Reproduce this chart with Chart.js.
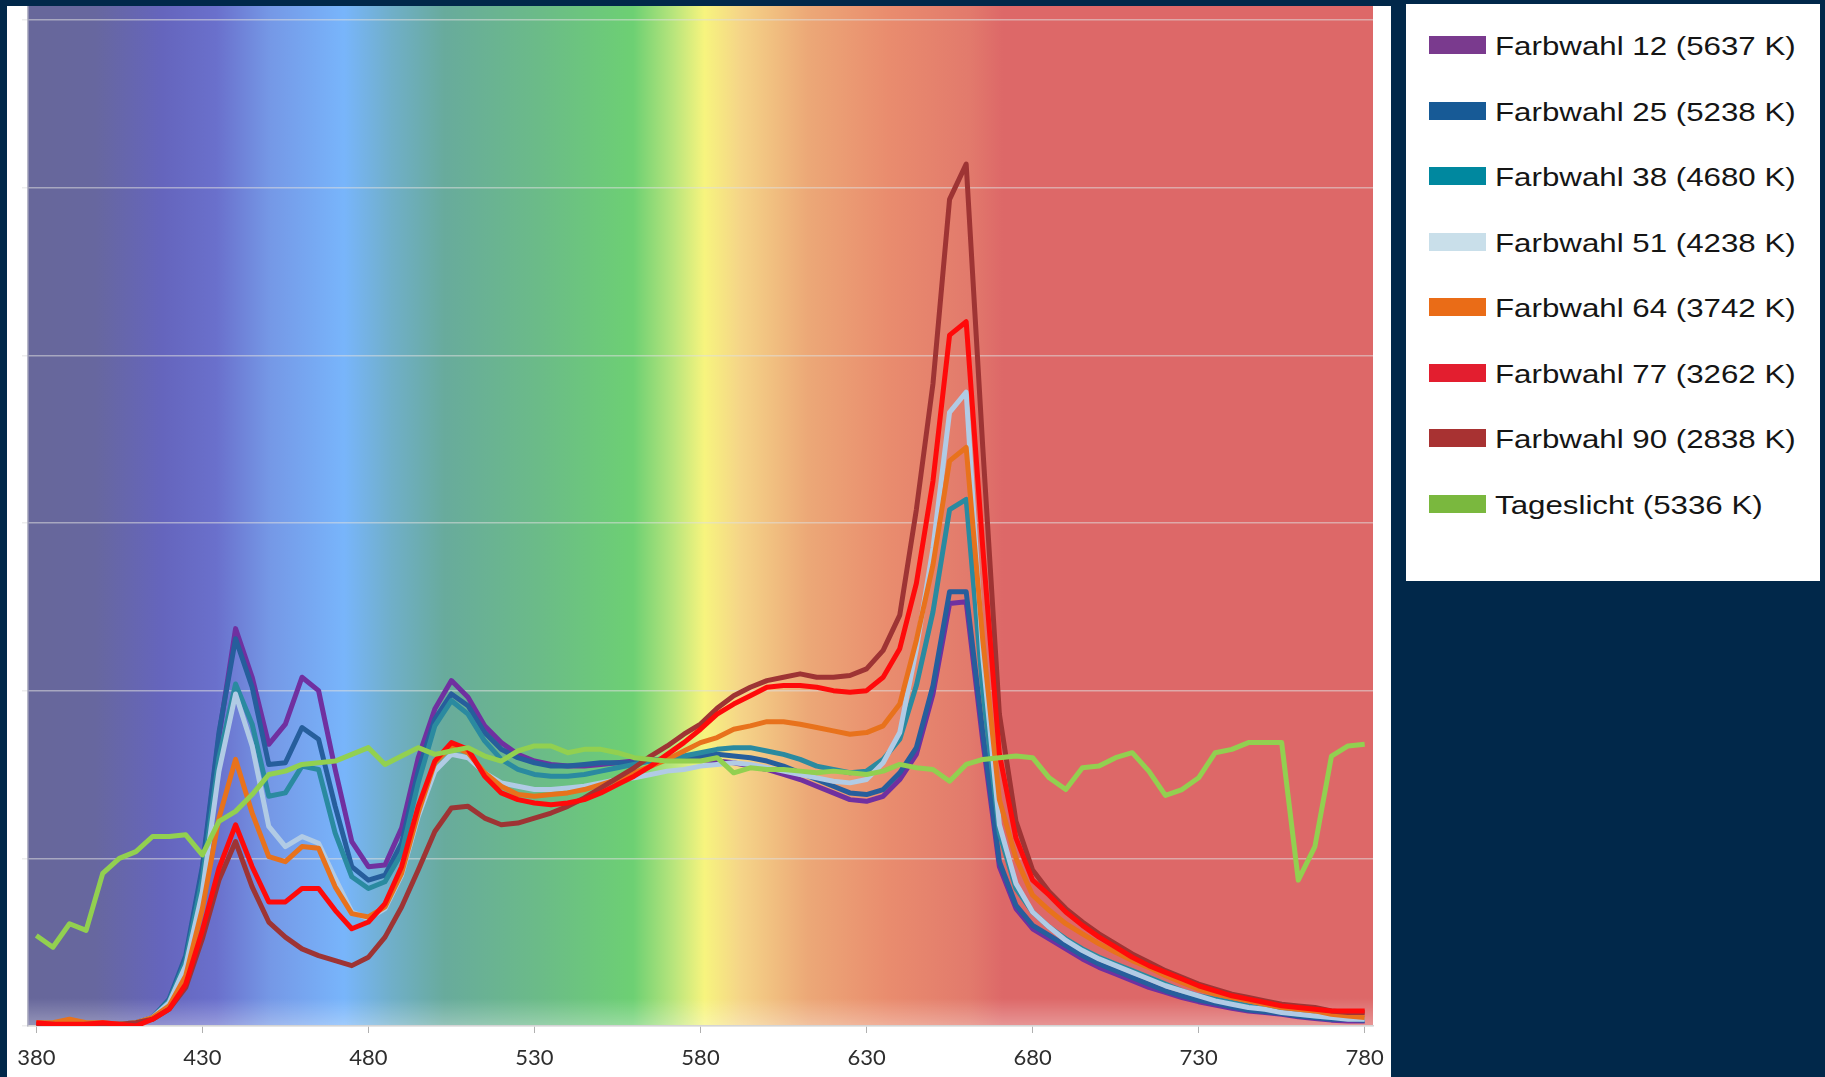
<!DOCTYPE html>
<html>
<head>
<meta charset="utf-8">
<script src="https://cdn.jsdelivr.net/npm/chart.js@4.4.1/dist/chart.umd.min.js"></script>
<style>
  html, body { margin: 0; padding: 0; width: 1825px; height: 1077px; overflow: hidden; background: #01284a; }
  #panel { position: absolute; left: 7px; top: 6px; width: 1384px; height: 1071px; background: #fff; }
  #legend { position: absolute; left: 1406px; top: 4px; width: 414px; height: 577px; background: #fff; }
  .item { position: absolute; left: 23px; height: 30px; display: flex; align-items: center; }
  .swatch { width: 57px; height: 18px; }
  .label { position: absolute; left: 66px; top: 1px; line-height: 30px; white-space: nowrap;
           font-family: "Liberation Sans", Arial, sans-serif; font-size: 26.5px; color: #151515;
           transform: scaleX(1.18); transform-origin: left center; }
</style>
</head>
<body>
<div id="panel"><canvas id="spectrum" width="1384" height="1071"></canvas></div>
<div id="legend"></div>
<script>
const WAVELENGTHS = [380, 385, 390, 395, 400, 405, 410, 415, 420, 425, 430, 435, 440, 445, 450, 455,
  460, 465, 470, 475, 480, 485, 490, 495, 500, 505, 510, 515, 520, 525, 530, 535, 540, 545, 550, 555,
  560, 565, 570, 575, 580, 585, 590, 595, 600, 605, 610, 615, 620, 625, 630, 635, 640, 645, 650, 655,
  660, 665, 670, 675, 680, 685, 690, 695, 700, 705, 710, 715, 720, 725, 730, 735, 740, 745, 750, 755,
  760, 765, 770, 775, 780];

const GRID_VALUES = [0, 1, 2, 3, 4, 5, 6];

const SERIES_NAMES = ['Farbwahl 12 (5637 K)', 'Farbwahl 25 (5238 K)', 'Farbwahl 38 (4680 K)',
  'Farbwahl 51 (4238 K)', 'Farbwahl 64 (3742 K)', 'Farbwahl 77 (3262 K)', 'Farbwahl 90 (2838 K)',
  'Tageslicht (5336 K)'];

const farbwahl12 = [0.01, 0.00, 0.01, 0.01, 0.01, 0.01, 0.02, 0.05,
  0.15, 0.40, 0.93, 1.73, 2.37, 2.08, 1.68, 1.80, 2.08, 2.00, 1.53, 1.10,
  0.95, 0.96, 1.18, 1.60, 1.89, 2.06, 1.96, 1.79, 1.69, 1.62, 1.58, 1.56, 1.55, 1.55, 1.56, 1.57,
  1.58, 1.59, 1.59, 1.60, 1.59, 1.58, 1.57, 1.55, 1.53, 1.50, 1.47, 1.43, 1.39, 1.35, 1.34, 1.37,
  1.47, 1.62, 1.98, 2.52, 2.53, 1.70, 0.95, 0.70, 0.58, 0.52, 0.46, 0.40, 0.35, 0.31, 0.27, 0.23,
  0.20, 0.17, 0.145, 0.125, 0.105, 0.09, 0.08, 0.07, 0.055, 0.045, 0.035, 0.03, 0.03];

const farbwahl25 = [-0.02, 0.00, 0.00, 0.01, 0.01, 0.01, 0.02, 0.05,
  0.16, 0.42, 0.95, 1.75, 2.31, 2.02, 1.56, 1.57, 1.78, 1.71, 1.31, 0.95,
  0.87, 0.90, 1.09, 1.52, 1.83, 1.98, 1.91, 1.75, 1.65, 1.60, 1.57, 1.55, 1.55, 1.56, 1.57, 1.57,
  1.57, 1.58, 1.59, 1.60, 1.61, 1.62, 1.61, 1.60, 1.58, 1.55, 1.51, 1.47, 1.43, 1.39, 1.38, 1.41,
  1.51, 1.66, 2.03, 2.59, 2.59, 1.75, 0.98, 0.72, 0.60, 0.54, 0.48, 0.42, 0.37, 0.33, 0.29, 0.25,
  0.21, 0.18, 0.155, 0.135, 0.115, 0.095, 0.085, 0.075, 0.06, 0.05, 0.04, 0.04, 0.035];

const farbwahl38 = [0.00, 0.01, 0.01, 0.01, 0.01, 0.01, 0.02, 0.05,
  0.15, 0.39, 0.88, 1.60, 2.04, 1.80, 1.37, 1.39, 1.55, 1.53, 1.15, 0.89,
  0.82, 0.86, 1.03, 1.45, 1.79, 1.94, 1.86, 1.70, 1.59, 1.53, 1.50, 1.49, 1.49, 1.50, 1.52, 1.54,
  1.56, 1.58, 1.60, 1.61, 1.63, 1.65, 1.66, 1.66, 1.64, 1.62, 1.59, 1.55, 1.53, 1.51, 1.52, 1.59,
  1.71, 2.03, 2.47, 3.08, 3.14, 2.00, 1.15, 0.82, 0.68, 0.59, 0.52, 0.46, 0.41, 0.37, 0.33, 0.29,
  0.25, 0.21, 0.18, 0.16, 0.14, 0.12, 0.10, 0.09, 0.07, 0.06, 0.05, 0.05, 0.04];

const farbwahl51 = [0.00, 0.00, 0.01, 0.01, 0.01, 0.01, 0.02, 0.05,
  0.14, 0.36, 0.80, 1.52, 1.98, 1.67, 1.19, 1.07, 1.13, 1.09, 0.88, 0.68,
  0.64, 0.70, 0.90, 1.25, 1.52, 1.62, 1.60, 1.51, 1.45, 1.43, 1.41, 1.41, 1.42, 1.43, 1.45, 1.47,
  1.48, 1.50, 1.52, 1.53, 1.55, 1.56, 1.57, 1.56, 1.54, 1.52, 1.50, 1.48, 1.46, 1.45, 1.47, 1.57,
  1.75, 2.25, 2.85, 3.66, 3.78, 2.20, 1.20, 0.85, 0.68, 0.59, 0.51, 0.45, 0.40, 0.36, 0.32, 0.28,
  0.24, 0.21, 0.18, 0.15, 0.13, 0.11, 0.10, 0.08, 0.07, 0.06, 0.05, 0.04, 0.04];

const farbwahl64 = [0.02, 0.02, 0.04, 0.02, 0.02, 0.01, 0.02, 0.05,
  0.12, 0.30, 0.70, 1.24, 1.59, 1.27, 1.01, 0.98, 1.07, 1.06, 0.83, 0.67,
  0.65, 0.71, 0.91, 1.27, 1.57, 1.67, 1.63, 1.51, 1.43, 1.38, 1.37, 1.38, 1.39, 1.41, 1.44, 1.47,
  1.51, 1.55, 1.59, 1.64, 1.69, 1.72, 1.77, 1.79, 1.815, 1.815, 1.80, 1.78, 1.76, 1.74, 1.75, 1.79,
  1.92, 2.30, 2.75, 3.37, 3.45, 2.30, 1.35, 1.00, 0.78, 0.69, 0.61, 0.55, 0.49, 0.44, 0.39, 0.35,
  0.30, 0.26, 0.22, 0.19, 0.17, 0.15, 0.13, 0.11, 0.10, 0.09, 0.07, 0.06, 0.05];

const farbwahl77 = [0.02, 0.01, 0.01, 0.01, 0.02, 0.01, 0.00, 0.04,
  0.10, 0.25, 0.57, 0.94, 1.20, 0.95, 0.74, 0.74, 0.82, 0.82, 0.69, 0.58,
  0.62, 0.73, 0.95, 1.31, 1.58, 1.69, 1.65, 1.49, 1.39, 1.35, 1.33, 1.32, 1.33, 1.35, 1.39, 1.44,
  1.49, 1.55, 1.62, 1.69, 1.77, 1.86, 1.92, 1.97, 2.02, 2.03, 2.03, 2.02, 2.00, 1.99, 2.00, 2.08,
  2.25, 2.64, 3.25, 4.12, 4.20, 2.85, 1.62, 1.12, 0.87, 0.78, 0.68, 0.60, 0.53, 0.47, 0.41, 0.36,
  0.32, 0.28, 0.24, 0.21, 0.18, 0.16, 0.14, 0.12, 0.11, 0.10, 0.09, 0.09, 0.09];

const farbwahl90 = [0.01, 0.01, 0.00, 0.01, 0.01, 0.01, 0.02, 0.04,
  0.10, 0.23, 0.52, 0.87, 1.10, 0.83, 0.62, 0.53, 0.46, 0.42, 0.39, 0.36,
  0.41, 0.53, 0.71, 0.93, 1.16, 1.30, 1.31, 1.24, 1.20, 1.21, 1.24, 1.27, 1.31, 1.36, 1.42, 1.48,
  1.54, 1.61, 1.67, 1.74, 1.80, 1.895, 1.97, 2.02, 2.06, 2.08, 2.10, 2.08, 2.08, 2.09, 2.13, 2.24,
  2.45, 3.08, 3.83, 4.93, 5.14, 3.45, 1.86, 1.22, 0.93, 0.80, 0.70, 0.62, 0.55, 0.49, 0.43, 0.38,
  0.33, 0.29, 0.25, 0.22, 0.19, 0.17, 0.15, 0.13, 0.12, 0.11, 0.09, 0.08, 0.08];

const tageslicht = [0.54, 0.47, 0.61, 0.57, 0.91, 1.00, 1.04, 1.13,
  1.13, 1.14, 1.02, 1.22, 1.28, 1.38, 1.50, 1.52, 1.56, 1.57, 1.58, 1.62,
  1.66, 1.56, 1.61, 1.66, 1.62, 1.64, 1.66, 1.61, 1.58, 1.64, 1.67, 1.67, 1.63, 1.65, 1.65, 1.63,
  1.60, 1.59, 1.58, 1.58, 1.58, 1.60, 1.51, 1.54, 1.53, 1.53, 1.52, 1.51, 1.52, 1.51, 1.50, 1.52,
  1.56, 1.54, 1.53, 1.46, 1.56, 1.59, 1.60, 1.61, 1.60, 1.48, 1.41, 1.54, 1.55, 1.60, 1.63, 1.52,
  1.375, 1.41, 1.48, 1.63, 1.65, 1.69, 1.69, 1.69, 0.87, 1.07, 1.61, 1.67, 1.68];

const SERIES_VALUES = [farbwahl12, farbwahl25, farbwahl38, farbwahl51, farbwahl64, farbwahl77, farbwahl90, tageslicht];

const LINE_COLORS = ['#7030a0', '#265e9c', '#2a8aa0', '#b1cbe5', '#e8721c', '#ff0a0a', '#9e3434', '#92d050'];
const SWATCH_COLORS = ['#7a3a8e', '#175a96', '#00889f', '#c9dfea', '#ea6c17', '#e31e2f', '#a83232', '#7ab83e'];
// drawing order: lower = on top
const DRAW_ORDER = [7, 6, 5, 4, 3, 1, 2, 0];

const SPECTRUM_STOPS = [
  [0.00, '#67679a'], [0.05, '#67679f'], [0.10, '#6565bd'], [0.14, '#6a70cc'],
  [0.18, '#7598e6'], [0.235, '#78b5fb'], [0.27, '#70afc9'], [0.31, '#68ab9c'],
  [0.38, '#6bbb88'], [0.45, '#6dd073'], [0.48, '#b8e57c'], [0.503, '#f7f47e'],
  [0.53, '#f5d488'], [0.58, '#eca877'], [0.64, '#e98c6e'], [0.70, '#e27a6c'],
  [0.725, '#dd6868'], [1.00, '#dd6868'],
];

const spectrumBg = {
  id: 'spectrumBg',
  beforeDraw(chart) {
    const { ctx, chartArea: a } = chart;
    const g = ctx.createLinearGradient(a.left, 0, a.right, 0);
    SPECTRUM_STOPS.forEach(([p, c]) => g.addColorStop(p, c));
    ctx.save();
    ctx.fillStyle = g;
    ctx.fillRect(a.left, a.top, a.right - a.left, a.bottom - a.top);
    const haze = ctx.createLinearGradient(0, a.bottom - 28, 0, a.bottom);
    haze.addColorStop(0, 'rgba(255,255,255,0)');
    haze.addColorStop(1, 'rgba(255,255,255,0.3)');
    ctx.fillStyle = haze;
    ctx.fillRect(a.left, a.bottom - 28, a.right - a.left, 28);
    ctx.restore();
  },
};

const datasets = SERIES_NAMES.map((name, i) => ({
  label: name,
  data: SERIES_VALUES[i],
  borderColor: LINE_COLORS[i],
  borderWidth: 5,
  pointRadius: 0,
  tension: 0,
  borderJoinStyle: 'round',
  order: DRAW_ORDER[i],
}));

new Chart(document.getElementById('spectrum'), {
  type: 'line',
  data: { labels: WAVELENGTHS, datasets },
  options: {
    responsive: false,
    animation: false,
    layout: { padding: { left: 0, right: 18, top: 0, bottom: 0 } },
    plugins: { legend: { display: false }, tooltip: { enabled: false } },
    scales: {
      x: {
        type: 'category',
        offset: true,
        grid: {
          drawOnChartArea: false, drawTicks: true, tickLength: 7, offset: false,
          color: ctx => ctx.index % 10 === 0 ? '#b0b0b0' : 'transparent',
        },
        border: { color: '#d4d4d4', width: 1.5 },
        ticks: {
          autoSkip: false, maxRotation: 0, padding: 12, color: '#2e2e2e',
          font: { family: 'Lato', size: 22 },
          callback: (v, i) => i % 10 === 0 ? WAVELENGTHS[i] : '',
        },
        afterFit: s => { s.height = 51; s.paddingLeft = 0; s.paddingRight = 0; },
      },
      y: {
        min: 0, max: 6.083,
        afterBuildTicks: s => { s.ticks = GRID_VALUES.map(v => ({ value: v })); },
        ticks: { display: false },
        grid: { color: 'rgba(222,222,222,0.55)', lineWidth: 1.5, tickLength: 6 },
        border: { color: '#b8b8c8', width: 1.5 },
        afterFit: s => { s.width = 21; },
      },
    },
  },
  plugins: [spectrumBg],
});

const legend = document.getElementById('legend');
SERIES_NAMES.forEach((name, i) => {
  const row = document.createElement('div');
  row.className = 'item';
  row.style.top = (41.4 + i * 65.5 - 15) + 'px';
  row.innerHTML = `<div class="swatch" style="background:${SWATCH_COLORS[i]}"></div><span class="label">${name}</span>`;
  legend.appendChild(row);
});
</script>
</body>
</html>
